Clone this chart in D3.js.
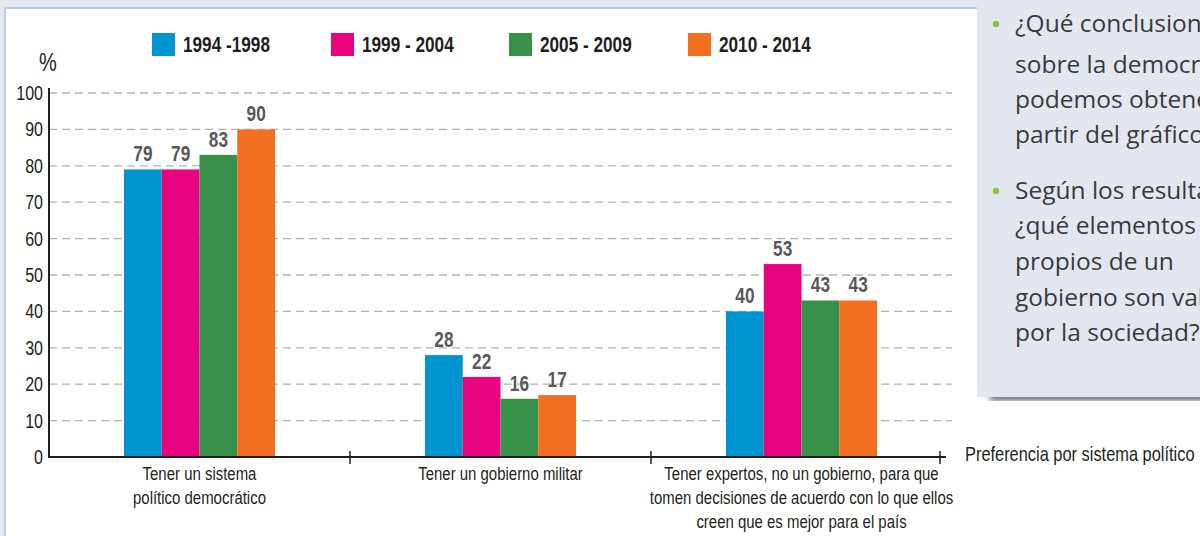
<!DOCTYPE html>
<html>
<head>
<meta charset="utf-8">
<script src="https://cdn.jsdelivr.net/npm/d3@7"></script>
<style>
  html, body { margin: 0; padding: 0; background: #e3e8f0; }
  svg { display: block; }
  .cond { font-family: "Liberation Sans", Arial, sans-serif; }
</style>
</head>
<body>
<svg id="chart" width="1200" height="536"></svg>
<script>
// data
var categories = [
  ["Tener un sistema", "político democrático"],
  ["Tener un gobierno militar"],
  ["Tener expertos, no un gobierno, para que", "tomen decisiones de acuerdo con lo que ellos", "creen que es mejor para el país"]
];
var periods = ["1994 -1998", "1999 - 2004", "2005 - 2009", "2010 - 2014"];
var colors = ["#0095d0", "#e8037f", "#38914a", "#f26f22"];
var values1994 = [79, 28, 40];
var values1999 = [79, 22, 53];
var values2005 = [83, 16, 43];
var values2010 = [90, 17, 43];
var yTicks = [0, 10, 20, 30, 40, 50, 60, 70, 80, 90, 100];
var questions = [
  ["¿Qué conclusiones", "sobre la democracia", "podemos obtener a", "partir del gráfico?"],
  ["Según los resultados,", "¿qué elementos", "propios de un", "gobierno son valorados", "por la sociedad?"]
];

var series = [values1994, values1999, values2005, values2010];
var SX = 0.8; // horizontal squeeze to imitate a condensed face

var svg = d3.select('#chart');

// condensed text helper
function ctext(parent, px, py, size) {
  return parent.append('text').attr('class', 'cond')
    .attr('transform', 'translate(' + px + ',' + py + ') scale(' + SX + ',1)')
    .attr('font-size', size).attr('fill', '#231f20');
}

// white panel
svg.append('rect')
  .attr('x', 5).attr('y', 8).attr('width', 1300).attr('height', 600)
  .attr('fill', '#fff').attr('stroke', '#b9cde0').attr('stroke-width', 2);

var x = d3.scaleBand().domain(d3.range(categories.length)).range([49, 952]);
var inner = d3.scaleBand().domain(d3.range(periods.length)).range([0, 151]);
var y = d3.scaleLinear().domain([0, 100]).range([457, 93]);
var groupOffset = (x.bandwidth() - 151) / 2;

// dashed grid
svg.append('g').selectAll('line')
  .data(yTicks.filter(function(d) { return d > 0; }))
  .enter().append('line')
  .attr('x1', 49).attr('x2', 952)
  .attr('y1', function(d) { return y(d); })
  .attr('y2', function(d) { return y(d); })
  .attr('stroke', '#b3b3b3').attr('stroke-width', 1.3)
  .attr('stroke-dasharray', '8,5');

// bars
var groups = svg.append('g').selectAll('g')
  .data(categories)
  .enter().append('g')
  .attr('transform', function(d, i) { return 'translate(' + (x(i) + groupOffset) + ',0)'; });

groups.each(function(c, i) {
  var g = d3.select(this);
  periods.forEach(function(p, j) {
    var v = series[j][i];
    g.append('rect')
      .attr('x', inner(j)).attr('y', y(v))
      .attr('width', inner.bandwidth()).attr('height', y(0) - y(v))
      .attr('fill', colors[j]);
    ctext(g, inner(j) + inner.bandwidth() / 2, y(v) - 8, 21.5)
      .attr('text-anchor', 'middle').attr('font-weight', 'bold')
      .attr('fill', '#58585a')
      .text(v);
  });
});

// y axis
var yAxis = svg.append('g').attr('transform', 'translate(49,0)')
  .call(d3.axisLeft(y).tickValues(yTicks).tickSize(0).tickPadding(6));
yAxis.select('.domain').remove();
yAxis.selectAll('.tick text')
  .attr('class', 'cond').attr('font-size', 20).attr('fill', '#231f20')
  .attr('x', -6 / SX).attr('transform', 'scale(' + SX + ',1)');
svg.append('line').attr('x1', 49).attr('x2', 49).attr('y1', 88).attr('y2', 458)
  .attr('stroke', '#231f20').attr('stroke-width', 2);

ctext(svg, 48, 71, 25).attr('text-anchor', 'middle').text('%');

// x axis
svg.append('line').attr('x1', 48).attr('x2', 946).attr('y1', 457).attr('y2', 457)
  .attr('stroke', '#231f20').attr('stroke-width', 2);
var tickXs = [x(1), x(2), 940];
svg.append('g').selectAll('line').data(tickXs).enter().append('line')
  .attr('x1', function(d) { return d; }).attr('x2', function(d) { return d; })
  .attr('y1', 451).attr('y2', 464)
  .attr('stroke', '#231f20').attr('stroke-width', 1.5);

// category labels
categories.forEach(function(c, i) {
  var t = ctext(svg, x(i) + x.bandwidth() / 2, 480, 18.7).attr('text-anchor', 'middle');
  c.forEach(function(line, k) {
    t.append('tspan').attr('x', 0).attr('dy', k === 0 ? 0 : 24).text(line);
  });
});

ctext(svg, 965, 461, 20.5).text('Preferencia por sistema político');

// legend
var legendX = [152, 331, 509, 688];
var legend = svg.append('g').selectAll('g').data(periods).enter().append('g')
  .attr('transform', function(d, i) { return 'translate(' + legendX[i] + ',33)'; });
legend.append('rect').attr('width', 23).attr('height', 23)
  .attr('fill', function(d, i) { return colors[i]; });
legend.each(function(d) {
  ctext(d3.select(this), 31, 19, 21.5).attr('font-weight', 'bold').text(d);
});

// callout box with shadow
var defs = svg.append('defs');
defs.append('filter').attr('id', 'blur').append('feGaussianBlur').attr('stdDeviation', 3);
svg.append('rect').attr('x', 990).attr('y', 392).attr('width', 260).attr('height', 8)
  .attr('fill', '#555').attr('filter', 'url(#blur)');
svg.append('rect').attr('x', 977).attr('y', 0).attr('width', 240).attr('height', 397)
  .attr('fill', '#e3e8f0');

var qy = [[32, 73, 108, 143], [199, 234, 270, 306, 341]];
questions.forEach(function(q, i) {
  svg.append('circle').attr('cx', 996).attr('cy', qy[i][0] - 8).attr('r', 3.2).attr('fill', '#8cc63f');
  q.forEach(function(line, k) {
    svg.append('text').attr('x', 1015).attr('y', qy[i][k])
      .attr('font-family', '"Open Sans", sans-serif').attr('font-size', 24.5)
      .attr('fill', '#3a3a3c').text(line);
  });
});
</script>
</body>
</html>
